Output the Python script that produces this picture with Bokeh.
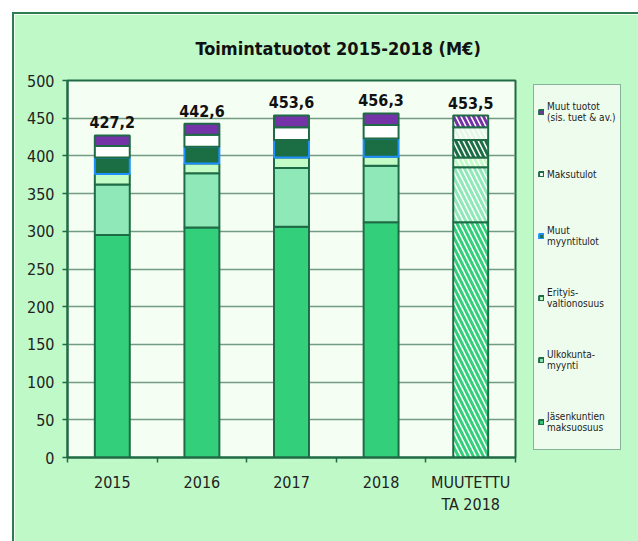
import numpy as np
from bokeh.plotting import figure
from bokeh.models import (ColumnDataSource, Range1d, FixedTicker, SingleIntervalTicker,
                          Legend, LegendItem, Title)
from bokeh.core.properties import value
from bokeh.embed import file_html
from bokeh.resources import INLINE

# ---- data (M€) ----
categories = ["2015", "2016", "2017", "2018", "MUUTETTU\nTA 2018"]
jasenkuntien = [295.0, 305.0, 306.0, 312.0, 312.0]   # Jäsenkuntien maksuosuus
ulkokunta = [67.0, 72.0, 78.0, 75.0, 73.0]            # Ulkokuntamyynti
erityis = [14.0, 13.0, 14.0, 12.0, 13.0]              # Erityisvaltionosuus
muut_myynti = [22.0, 22.0, 23.0, 24.0, 23.0]          # Muut myyntitulot
maksutulot = [15.0, 16.0, 17.0, 18.0, 17.0]           # Maksutulot
muut_tuotot = [14.2, 14.6, 15.6, 15.3, 15.5]          # Muut tuotot (sis. tuet & av.)

stackers = ["jas", "ulk", "erit", "muutm", "maksu", "muutt"]
series_labels = ["Jäsenkuntien\nmaksuosuus", "Ulkokunta-\nmyynti", "Erityis-\nvaltionosuus",
                 "Muut\nmyyntitulot", "Maksutulot", "Muut tuotot\n(sis. tuet & av.)"]
y_ticks_step = 50
y_max = 500

# ---- styles ----
FONT = "DejaVu Sans Condensed"
fills = ["#33CF7B", "#8EE8B7", "#C4FCC8", "#1B6E43", "#FFFFFF", "#7433A6"]
hatch_cols = ["#33CF7B", "#8EE8B7", "#C4FCC8", "#1B6E43", "#E4F8E6", "#7433A6"]
edge = "#1E6B45"
bar_lines = [edge, edge, edge, "#1E8FFF", edge, edge]
OUTER_BG = "#C0F9C8"

n = len(categories)
centers = (np.arange(n) + 0.5).tolist()
data = {"x": centers, "jas": jasenkuntien, "ulk": ulkokunta, "erit": erityis,
        "muutm": muut_myynti, "maksu": maksutulot, "muutt": muut_tuotot}
totals = np.sum([data[s] for s in stackers], axis=0)
labels = [f"{t:.1f}".replace(".", ",") for t in totals]

actual = {k: v[:4] for k, v in data.items()}
budget = {k: v[4:] for k, v in data.items()}
src_actual = ColumnDataSource(actual)
src_budget = ColumnDataSource(budget)
src_lab = ColumnDataSource({"x": centers, "y": totals.tolist(), "t": labels})

p = figure(frame_width=448, frame_height=377, output_backend="svg", toolbar_location=None,
           x_range=Range1d(0, n), y_range=Range1d(0, y_max),
           min_border_left=53, min_border_right=123, min_border_top=66, min_border_bottom=84)
p.styles = {"margin-left": "12px", "margin-top": "12px",
            "border-left": "2px solid #2E7D52", "border-top": "2px solid #2E7D52"}
p.background_fill_color = "#F5FEF3"
p.border_fill_color = OUTER_BG
p.outline_line_color = edge
p.outline_line_width = 2

bar_w = 0.39
rs = p.vbar_stack(stackers, x="x", width=bar_w, source=src_actual,
                  fill_color=fills, line_color=bar_lines, line_width=2)
p.vbar_stack(stackers, x="x", width=bar_w, source=src_budget,
             fill_color="white", line_color=edge, line_width=2,
             hatch_color=hatch_cols, hatch_pattern="left_diagonal_line",
             hatch_scale=10, hatch_weight=3)

p.text(x="x", y="y", text="t", source=src_lab, text_align="center",
       text_baseline="bottom", y_offset=-7, text_font=value(FONT), text_font_size="16px",
       text_font_style="bold", text_color="#111111")

# axes
p.xaxis.ticker = FixedTicker(ticks=centers, minor_ticks=list(range(n + 1)))
p.xaxis.major_label_overrides = {c: lab for c, lab in zip(centers, categories)}
p.xaxis.major_tick_line_color = None
p.xaxis.minor_tick_out = 5
p.xaxis.minor_tick_in = 0
p.xaxis.minor_tick_line_color = edge
p.xaxis.minor_tick_line_width = 1.5
p.xaxis.major_label_standoff = 9

p.yaxis.ticker = SingleIntervalTicker(interval=y_ticks_step, num_minor_ticks=0)
p.yaxis.major_tick_out = 5
p.yaxis.major_tick_in = 0
p.yaxis.major_tick_line_color = edge
p.yaxis.major_tick_line_width = 1.5
p.yaxis.minor_tick_line_color = None
p.yaxis.major_label_standoff = 8

for ax in (p.xaxis[0], p.yaxis[0]):
    ax.axis_line_color = edge
    ax.axis_line_width = 2
    ax.major_label_text_font = FONT
    ax.major_label_text_font_size = "16px"
    ax.major_label_text_color = "#222222"

p.xgrid.grid_line_color = None
p.ygrid.grid_line_color = "#729C82"
p.ygrid.grid_line_width = 1.5

# title
title = Title(text="Toimintatuotot 2015-2018 (M€)", align="left", offset=128,
              text_font=FONT, text_font_size="18px", text_font_style="bold",
              text_color="#111111", standoff=43)
p.add_layout(title, "above")

# legend (top item first)
items = [LegendItem(label=series_labels[i], renderers=[rs[i]]) for i in reversed(range(len(stackers)))]
legend = Legend(items=items, location=(18, 7), margin=0, padding=4, spacing=16,
                label_height=46, glyph_height=6, glyph_width=6, label_standoff=3,
                label_width=60, label_text_font=FONT, label_text_font_size="10px",
                label_text_color="#222222", border_line_color=edge, border_line_width=1.5,
                background_fill_color="#EEFCEE", background_fill_alpha=1)
p.add_layout(legend, "right")

open("out.html", "w").write(file_html(p, INLINE))
